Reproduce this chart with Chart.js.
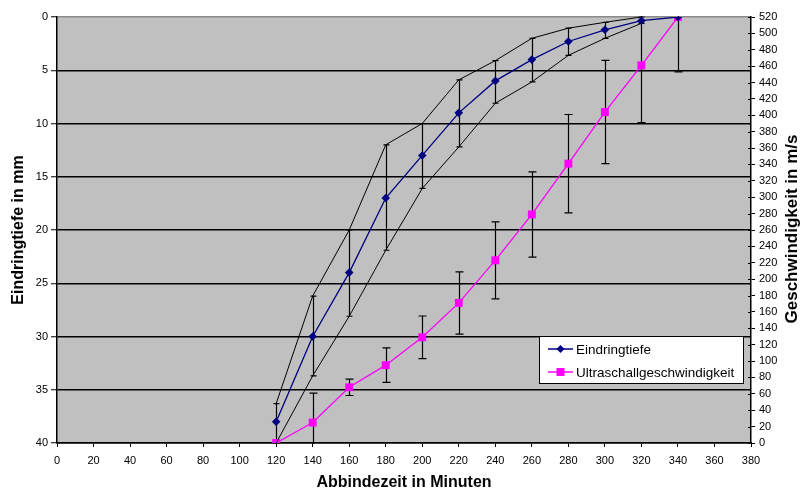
<!DOCTYPE html>
<html><head><meta charset="utf-8">
<script src="https://cdn.jsdelivr.net/npm/chart.js@4"></script>
<style>html,body{margin:0;padding:0;background:#fff;}#wrap{width:808px;height:493px;}</style>
</head><body><div id="wrap"><canvas id="c" width="808" height="493"></canvas></div>
<script>
const abbindezeit = [120,140,160,180,200,220,240,260,280,300,320,340];
const eindringtiefe = [38,30,24,17,13,9,6,4,2.3,1.2,0.35,0];
const tiefeOben = [36.3,26.2,20,12,10,5.9,4.1,2.0,1.05,0.5,0,null];
const tiefeUnten = [40,33.7,28.1,21.9,16.1,12.2,8.1,6.1,3.6,2.0,0.6,null];
const geschwindigkeit = [0,25,68,95,129,171,223,279,341,404,461,520];
const geschwFehler = [0,36,10,21,26,38,47,52,60,63,70,67];
const xTickWerte = [0,20,40,60,80,100,120,140,160,180,200,220,240,260,280,300,320,340,360,380];
const tiefeTickWerte = [0,5,10,15,20,25,30,35,40];
const geschwTickWerte = [0,20,40,60,80,100,120,140,160,180,200,220,240,260,280,300,320,340,360,380,400,420,440,460,480,500,520];
const serienNamen = ['Eindringtiefe','Ultraschallgeschwindigkeit'];
const achsenTitel = {x:'Abbindezeit in Minuten', y:'Eindringtiefe in mm', y2:'Geschwindigkeit in m/s'};

const FONT = "'Liberation Sans', Arial, sans-serif";
const NAVY = '#000080', PINK = '#FF00FF';

const punkte = (ys) => abbindezeit.map((t,i)=>({x:t,y:ys[i]}));

const hintergrund = {
  id:'hintergrund',
  beforeDraw(chart){
    const {ctx, chartArea:a} = chart;
    ctx.save();
    ctx.fillStyle='#fff'; ctx.fillRect(0,0,chart.width,chart.height);
    ctx.fillStyle='#C0C0C0'; ctx.fillRect(a.left,a.top,a.right-a.left,a.bottom-a.top);
    ctx.restore();
  }
};

const fehlerbalken = {
  id:'fehlerbalken',
  beforeDatasetsDraw(chart){
    const {ctx, chartArea:a, scales:{x,y,y2}} = chart;
    ctx.save();
    ctx.beginPath(); ctx.rect(a.left, a.top-1, a.right-a.left, a.bottom-a.top+2); ctx.clip();
    ctx.strokeStyle='#000'; ctx.lineWidth=1.2;
    const bar=(px,p1,p2,cap)=>{
      ctx.beginPath();
      ctx.moveTo(px,p1); ctx.lineTo(px,p2);
      ctx.moveTo(px-cap,p1); ctx.lineTo(px+cap,p1);
      ctx.moveTo(px-cap,p2); ctx.lineTo(px+cap,p2);
      ctx.stroke();
    };
    abbindezeit.forEach((t,i)=>{
      const px = Math.round(x.getPixelForValue(t))+0.5;
      if (tiefeOben[i]!=null) bar(px, y.getPixelForValue(tiefeOben[i]), y.getPixelForValue(tiefeUnten[i]), 3);
      if (geschwFehler[i]) bar(px, y2.getPixelForValue(geschwindigkeit[i]+geschwFehler[i]), y2.getPixelForValue(geschwindigkeit[i]-geschwFehler[i]), 4);
    });
    ctx.restore();
  }
};

const extras = {
  id:'extras',
  afterDraw(chart){
    const {ctx, scales:{y2}} = chart;
    ctx.save();
    ctx.strokeStyle='#000'; ctx.lineWidth=1;
    y2.ticks.forEach(t=>{
      const py = Math.round(y2.getPixelForValue(t.value))+0.5;
      ctx.beginPath(); ctx.moveTo(y2.left-3,py); ctx.lineTo(y2.left,py); ctx.stroke();
    });
    ctx.save();
    ctx.translate(792, 229);
    ctx.rotate(-Math.PI/2);
    ctx.fillStyle='#000'; ctx.font='bold 17px '+FONT;
    ctx.textAlign='center'; ctx.textBaseline='middle';
    ctx.fillText(achsenTitel.y2,0,0);
    ctx.restore();
    const lx=539, ly=336, lw=204, lh=47;
    ctx.fillStyle='#fff'; ctx.fillRect(lx,ly,lw,lh);
    ctx.strokeStyle='#000'; ctx.lineWidth=1;
    ctx.strokeRect(lx+0.5,ly+0.5,lw,lh);
    const rows=[{y:349,c:NAVY,m:'d'},{y:372,c:PINK,m:'s'}];
    ctx.font='13.5px '+FONT; ctx.textAlign='left'; ctx.textBaseline='middle';
    rows.forEach((r,i)=>{
      ctx.strokeStyle=r.c; ctx.lineWidth=1.5;
      ctx.beginPath(); ctx.moveTo(548,r.y); ctx.lineTo(573,r.y); ctx.stroke();
      ctx.fillStyle=r.c;
      ctx.beginPath();
      if(r.m==='d'){ctx.moveTo(560.5,r.y-4);ctx.lineTo(564.5,r.y);ctx.lineTo(560.5,r.y+4);ctx.lineTo(556.5,r.y);ctx.closePath();}
      else {ctx.rect(556.5,r.y-4,8,8);}
      ctx.fill();
      ctx.fillStyle='#000';
      ctx.fillText(serienNamen[i],576,r.y+1);
    });
    ctx.restore();
  }
};

const tickFont = {family:FONT, size:11};
const setTicks = (arr)=> (scale)=>{ scale.ticks = arr.map(v=>({value:v})); };

new Chart(document.getElementById('c'), {
  type:'line',
  data:{
    datasets:[
      {label:'oben', data:punkte(tiefeOben), yAxisID:'y', borderColor:'#000', borderWidth:1, pointRadius:0, spanGaps:false},
      {label:'unten', data:punkte(tiefeUnten), yAxisID:'y', borderColor:'#000', borderWidth:1, pointRadius:0, spanGaps:false},
      {label:serienNamen[0], data:punkte(eindringtiefe), yAxisID:'y', borderColor:NAVY, backgroundColor:NAVY, borderWidth:1.3, pointStyle:'rectRot', pointRadius:4.3, pointBorderWidth:0},
      {label:serienNamen[1], data:punkte(geschwindigkeit), yAxisID:'y2', borderColor:PINK, backgroundColor:PINK, borderWidth:1.3, pointStyle:'rect', pointRadius:5.6, pointBorderWidth:0}
    ]
  },
  options:{
    responsive:false, animation:false, devicePixelRatio:1,
    layout:{padding:{top:17,left:0,right:0,bottom:0}},
    plugins:{legend:{display:false}, tooltip:{enabled:false}},
    scales:{
      x:{type:'linear', min:0, max:380, position:'bottom',
        afterBuildTicks:setTicks(xTickWerte),
        afterFit:(s)=>{s.height=50;},
        grid:{drawOnChartArea:false, drawTicks:true, tickLength:4, tickColor:'#000', tickWidth:1},
        border:{color:'#000', width:1.5},
        ticks:{font:tickFont, color:'#000', padding:7, autoSkip:false, maxRotation:0},
        title:{display:true, text:achsenTitel.x, color:'#000', font:{family:FONT, size:16, weight:'bold'}, padding:{top:0,bottom:1}}
      },
      y:{type:'linear', min:0, max:40, reverse:true, position:'left',
        afterBuildTicks:setTicks(tiefeTickWerte),
        afterFit:(s)=>{s.width=57;},
        grid:{color:(c)=> c.tick && c.tick.value===0 ? '#8a8a8a' : '#000', lineWidth:1.5, tickLength:6, tickColor:'#000', tickWidth:1},
        border:{color:'#000', width:1.5},
        ticks:{font:tickFont, color:'#000', padding:3, autoSkip:false},
        title:{display:true, text:achsenTitel.y, color:'#000', font:{family:FONT, size:16, weight:'bold'}, padding:{top:9,bottom:0}}
      },
      y2:{type:'linear', min:0, max:520, position:'right',
        afterBuildTicks:setTicks(geschwTickWerte),
        afterFit:(s)=>{s.width=57;},
        grid:{drawOnChartArea:false, tickLength:4, tickColor:'#000', tickWidth:1},
        border:{color:'#000', width:1.5},
        ticks:{font:tickFont, color:'#000', padding:4, autoSkip:false}
      }
    }
  },
  plugins:[hintergrund, fehlerbalken, extras]
});
</script></body></html>
